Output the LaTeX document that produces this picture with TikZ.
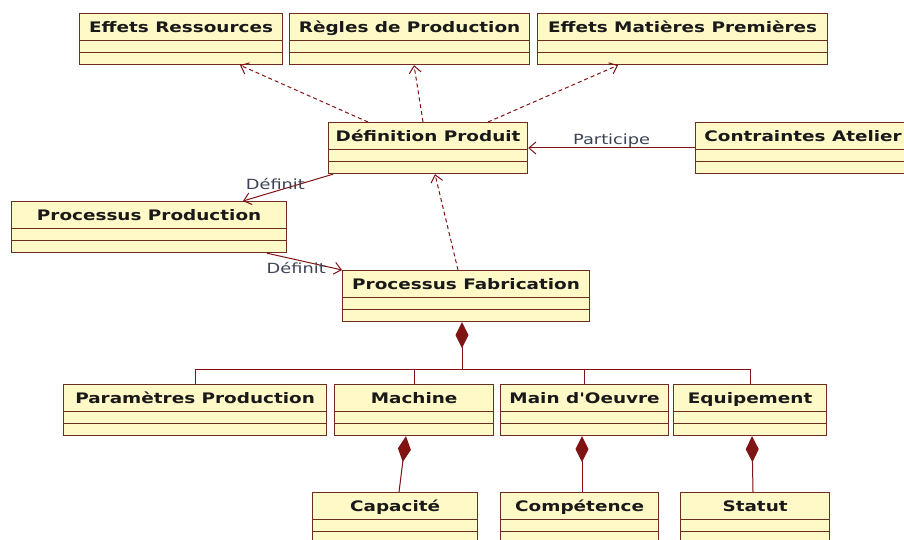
\documentclass[tikz,border=0pt]{standalone}
\usepackage{fontspec}
\setmainfont{DejaVu Sans}[FakeStretch=1.27]
\newfontfamily\plainquote{DejaVu Sans}[FakeStretch=1.27]
\usetikzlibrary{arrows.meta}
\definecolor{boxfill}{RGB}{255,249,200}
\definecolor{boxline}{RGB}{110,45,32}
\definecolor{linkred}{RGB}{128,20,20}
\definecolor{labelgray}{RGB}{60,68,84}

\begin{document}
\begin{tikzpicture}[x=1pt,y=-1pt,line width=1pt]
  \tikzstyle{classbox}=[rectangle,draw=boxline,fill=boxfill,line width=1.2pt,anchor=north west,
    inner sep=0pt,text height=19pt,text depth=32pt,text=black!90,
    font=\fontsize{14.5}{16}\selectfont\bfseries,
    path picture={\draw[boxline,line width=1.2pt]
      ([yshift=-27pt]path picture bounding box.north west) -- ([yshift=-27pt]path picture bounding box.north east)
      ([yshift=-39pt]path picture bounding box.north west) -- ([yshift=-39pt]path picture bounding box.north east);}]
  \tikzstyle{dep}=[draw=linkred,dash pattern=on 4pt off 3pt,-{Straight Barb[length=7pt,width=12pt]}]
  \tikzstyle{assoc}=[draw=linkred]
  \tikzstyle{compose}=[draw=linkred,fill=linkred,{Diamond[length=26pt,width=13pt]}-]
  \tikzstyle{lbl}=[text=labelgray,font=\fontsize{14}{16}\selectfont]
  \clip (0,0) rectangle (904,540);
  \fill[white] (0,0) rectangle (904,540);
  % top row
  \node[classbox,minimum width=203pt] (effres) at (79,13) {Effets Ressources};
  \node[classbox,minimum width=240pt] (regles) at (289,13) {Règles de Production};
  \node[classbox,minimum width=290pt] (effmat) at (537,13) {Effets Matières Premières};
  \node[classbox,minimum width=199pt] (defprod) at (328,122) {Définition Produit};
  \node[classbox,minimum width=215pt] (contr) at (695,122) {Contraintes Atelier};
  \node[classbox,minimum width=275pt] (procprod) at (11,201) {Processus Production};
  \node[classbox,minimum width=247pt] (procfab) at (342,270) {Processus Fabrication};
  % resources
  \node[classbox,minimum width=263pt] (params) at (63,384) {Paramètres Production};
  \node[classbox,minimum width=159pt] (machine) at (334,384) {Machine};
  \node[classbox,minimum width=168pt] (main) at (500,384) {Main d{\plainquote\bfseries '}Oeuvre};
  \node[classbox,minimum width=153pt] (equip) at (673,384) {Equipement};
  \node[classbox,minimum width=165pt] (capa) at (312,492) {Capacité};
  \node[classbox,minimum width=158pt] (compet) at (500,492) {Compétence};
  \node[classbox,minimum width=149pt] (statut) at (680,492) {Statut};
  % dependencies
  \draw[dep] ([xshift=40pt]defprod.north west) -- ([xshift=161pt]effres.south west);
  \draw[dep] ([xshift=95pt]defprod.north west) -- ([xshift=125pt]regles.south west);
  \draw[dep] ([xshift=160pt]defprod.north west) -- ([xshift=81pt]effmat.south west);
  \draw[dep] ([xshift=116pt]procfab.north west) -- ([xshift=107pt]defprod.south west);
  % associations
  \draw[assoc,-{Straight Barb[length=7pt,width=12pt]}] ([yshift=-26pt]contr.north west) --
    node[lbl,above=-3pt] {Participe} ([yshift=-26pt]defprod.north east);
  \draw[assoc,-{Straight Barb[length=7pt,width=12pt]}] ([xshift=5pt]defprod.south west) --
    node[lbl,pos=0.64,above=-2pt] {Définit} ([xshift=232pt]procprod.north west);
  \draw[assoc,-{Straight Barb[length=7pt,width=12pt]}] ([xshift=256pt]procprod.south west) --
    node[lbl,pos=0.39,below=-1pt] {Définit} (procfab.north west);
  % compositions
  \coordinate (bus) at (462,369);
  \draw[compose] ([xshift=120pt]procfab.south west) -- (bus);
  \draw[assoc] (bus) -| (params.north);
  \draw[assoc] (bus) -| (machine.north);
  \draw[assoc] (bus) -| (main.north);
  \draw[assoc] (bus) -| (equip.north);
  \draw[compose] ([xshift=72pt]machine.south west) -- ([xshift=87pt]capa.north west);
  \draw[compose] ([xshift=82pt]main.south west) -- ([xshift=82pt]compet.north west);
  \draw[compose] ([xshift=79pt]equip.south west) -- ([xshift=73pt]statut.north west);
\end{tikzpicture}
\end{document}
